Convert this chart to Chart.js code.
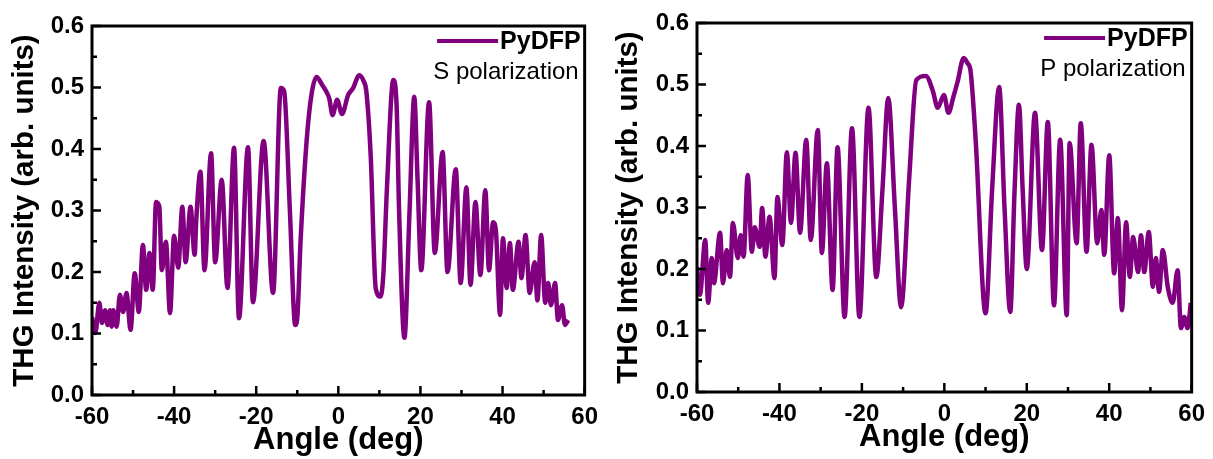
<!DOCTYPE html>
<html><head><meta charset="utf-8">
<script src="https://cdn.jsdelivr.net/npm/chart.js@4.4.0/dist/chart.umd.min.js"></script>
<style>
html,body{margin:0;padding:0;background:#fff;width:1213px;height:459px;overflow:hidden;}
.panel{position:absolute;top:0;height:459px;}
#p1{left:0;width:606px;}
#p2{left:606px;width:607px;}
</style></head><body>
<div class="panel" id="p1"><canvas id="c1"></canvas></div>
<div class="panel" id="p2"><canvas id="c2"></canvas></div>
<script>
// ---- data ----
const sAngles = [-60.0,-59.2,-58.2,-57.6,-56.8,-56.2,-55.6,-55.2,-54.8,-54.0,
  -53.2,-52.4,-51.6,-50.6,-49.6,-48.6,-47.6,-46.8,-46.0,-45.2,
  -44.4,-43.6,-43.0,-42.0,-41.0,-40.0,-39.0,-38.0,-37.2,-36.0,
  -35.0,-34.6,-33.6,-32.6,-31.0,-30.0,-28.4,-27.0,-25.4,-24.2,
  -22.0,-20.8,-18.2,-15.9,-14.0,-13.2,-11.8,-10.5,-10.0,-9.2,
  -7.7,-6.5,-5.3,-4.0,-2.9,-2.2,-1.4,-0.3,0.9,2.4,
  3.6,5.1,6.2,6.8,7.9,9.1,10.3,11.0,11.8,13.4,
  14.2,14.8,16.1,17.3,18.5,19.3,20.2,22.1,23.5,25.4,
  26.6,28.6,29.8,31.2,32.2,33.4,34.6,35.8,36.7,37.7,
  38.4,39.4,40.1,41.0,41.8,42.5,43.9,44.6,45.6,46.6,
  47.8,48.5,49.4,50.4,51.1,51.8,52.8,53.5,54.5,55.2,
  56.0];
const sValues = [0.127,0.101,0.150,0.117,0.138,0.114,0.138,0.111,0.138,0.111,
  0.163,0.135,0.166,0.106,0.198,0.135,0.244,0.171,0.231,0.171,
  0.314,0.306,0.203,0.249,0.133,0.259,0.207,0.306,0.216,0.306,
  0.228,0.285,0.363,0.203,0.393,0.216,0.350,0.174,0.402,0.125,
  0.403,0.151,0.413,0.166,0.499,0.494,0.300,0.114,0.125,0.250,
  0.415,0.490,0.517,0.505,0.493,0.482,0.455,0.480,0.457,0.488,
  0.499,0.520,0.510,0.495,0.387,0.174,0.160,0.200,0.330,0.512,
  0.470,0.300,0.093,0.290,0.485,0.350,0.203,0.476,0.231,0.395,
  0.200,0.367,0.182,0.338,0.179,0.314,0.195,0.333,0.203,0.281,
  0.265,0.130,0.255,0.174,0.247,0.171,0.249,0.190,0.260,0.166,
  0.216,0.154,0.260,0.150,0.182,0.146,0.182,0.122,0.146,0.114,
  0.122];

const pAngles = [-60.0,-59.3,-58.0,-57.3,-56.4,-55.9,-54.4,-53.7,-52.8,-52.0,
  -51.3,-50.1,-49.4,-48.7,-47.7,-46.7,-46.0,-44.8,-44.2,-43.4,
  -42.4,-41.2,-40.5,-39.3,-38.2,-37.2,-36.1,-35.0,-33.5,-32.4,
  -30.7,-29.7,-28.5,-27.1,-25.9,-24.2,-22.4,-20.6,-18.4,-16.5,
  -15.0,-13.6,-12.0,-10.5,-8.5,-6.8,-4.5,-2.8,-1.6,-0.1,
  1.0,2.2,3.2,4.7,5.6,6.4,7.6,10.0,11.6,13.3,
  14.6,16.0,17.0,18.1,19.0,20.0,22.0,23.7,25.1,26.6,
  28.1,29.7,30.4,32.1,33.1,34.5,35.7,37.1,38.1,38.8,
  40.0,41.2,42.1,43.1,44.1,45.0,45.8,47.0,47.7,48.5,
  49.6,50.6,51.3,52.1,53.0,54.2,55.4,56.6,57.4,58.2,
  59.0,59.8];
const pValues = [0.203,0.158,0.247,0.145,0.218,0.177,0.259,0.177,0.231,0.187,
  0.275,0.218,0.255,0.220,0.353,0.228,0.268,0.236,0.299,0.220,
  0.285,0.185,0.317,0.239,0.390,0.275,0.389,0.259,0.410,0.247,
  0.426,0.226,0.372,0.166,0.398,0.122,0.429,0.122,0.462,0.187,
  0.330,0.478,0.300,0.138,0.350,0.507,0.514,0.490,0.462,0.483,
  0.454,0.480,0.504,0.543,0.535,0.520,0.410,0.128,0.330,0.496,
  0.300,0.130,0.320,0.467,0.330,0.200,0.454,0.231,0.439,0.141,
  0.410,0.125,0.405,0.242,0.437,0.228,0.402,0.242,0.296,0.223,
  0.385,0.193,0.283,0.133,0.276,0.187,0.252,0.195,0.255,0.195,
  0.260,0.171,0.218,0.163,0.231,0.171,0.145,0.198,0.104,0.122,
  0.104,0.145];

const seriesName = 'PyDFP';
const sNote = 'S polarization';
const pNote = 'P polarization';
const xTitle = 'Angle (deg)';
const yTitle = 'THG Intensity (arb. units)';
const xMajor = [-60,-40,-20,0,20,40,60];
const xMinor = [-50,-30,-10,10,30,50];
const yMajor = [0.0,0.1,0.2,0.3,0.4,0.5,0.6];
const yMinor = [0.05,0.15,0.25,0.35,0.45,0.55];

const FONT = '"Liberation Sans", Arial, Helvetica, sans-serif';
const PURPLE = '#800080';

function toPoints(xs, ys){ return xs.map((x,i)=>({x:x, y:ys[i]})); }

const framePlugin = {
  id: 'frameTicks',
  afterDatasetsDraw(chart, args, opts){
    const {ctx, chartArea:a, scales:{x, y}} = chart;
    ctx.save();
    ctx.strokeStyle = '#000';
    ctx.lineWidth = 2.5;
    ctx.beginPath();
    xMajor.forEach(v=>{ const px = x.getPixelForValue(v); ctx.moveTo(px, a.bottom); ctx.lineTo(px, a.bottom-9); });
    xMinor.forEach(v=>{ const px = x.getPixelForValue(v); ctx.moveTo(px, a.bottom); ctx.lineTo(px, a.bottom-5); });
    yMajor.forEach(v=>{ const py = y.getPixelForValue(v); ctx.moveTo(a.left, py); ctx.lineTo(a.left+9, py); });
    yMinor.forEach(v=>{ const py = y.getPixelForValue(v); ctx.moveTo(a.left, py); ctx.lineTo(a.left+5, py); });
    ctx.stroke();
    ctx.lineWidth = 3;
    ctx.strokeRect(a.left, a.top, a.right-a.left, a.bottom-a.top);
    // legend
    const ds = chart.data.datasets[0];
    ctx.font = 'bold 25px ' + FONT;
    ctx.textBaseline = 'middle';
    ctx.textAlign = 'right';
    const nameW = ctx.measureText(ds.label).width;
    const nameRight = a.right - 4;
    const ly = a.top + 16;
    ctx.fillStyle = '#000';
    ctx.fillText(ds.label, nameRight, ly);
    ctx.strokeStyle = ds.borderColor;
    ctx.lineWidth = 4;
    ctx.beginPath();
    ctx.moveTo(nameRight - nameW - 63, ly - 1);
    ctx.lineTo(nameRight - nameW - 2, ly - 1);
    ctx.stroke();
    ctx.font = '24px ' + FONT;
    ctx.fillText(opts.note, a.right - 6, a.top + 46);
    ctx.restore();
  }
};

function makeChart(id, xs, ys, note, pad, yTitlePad){
  return new Chart(document.getElementById(id), {
    type: 'line',
    data: { datasets: [{
      label: seriesName,
      data: toPoints(xs, ys),
      borderColor: PURPLE,
      backgroundColor: PURPLE,
      borderWidth: 4.5,
      pointRadius: 0,
      fill: false,
      cubicInterpolationMode: 'monotone'
    }]},
    options: {
      responsive: true,
      maintainAspectRatio: false,
      animation: false,
      devicePixelRatio: 1,
      layout: { padding: pad },
      plugins: { legend: {display:false}, tooltip: {enabled:false}, frameTicks: {note: note} },
      scales: {
        x: {
          type: 'linear', position: 'bottom', min: -60, max: 60,
          grid: {display:false, drawTicks:false}, border: {display:false},
          ticks: {stepSize: 20, color:'#000', font:{family:FONT, size:24, weight:'bold'}, padding: 8, maxRotation:0, autoSkip:false},
          title: {display:true, text:xTitle, color:'#000', font:{family:FONT, size:31, weight:'bold'}, padding:{top:0, bottom:0}},
          afterFit(s){ s.height = 64; }
        },
        y: {
          type: 'linear', position: 'left', min: 0, max: 0.6,
          grid: {display:false, drawTicks:false}, border: {display:false},
          ticks: {stepSize: 0.1, color:'#000', font:{family:FONT, size:24, weight:'bold'}, padding: 8,
                  callback: v => Number(v).toFixed(1)},
          title: {display:true, text:yTitle, color:'#000', font:{family:FONT, size:29.5, weight:'bold'}, padding:{top:yTitlePad, bottom:0}},
          afterFit(s){ s.width = pad.yw; }
        }
      }
    },
    plugins: [framePlugin]
  });
}

makeChart('c1', sAngles, sValues, sNote, {top:26, right:14, left:0, bottom:0, yw:92}, 7);
makeChart('c2', pAngles, pValues, pNote, {top:23, right:17, left:0, bottom:3, yw:91}, 5);
</script>
</body></html>
